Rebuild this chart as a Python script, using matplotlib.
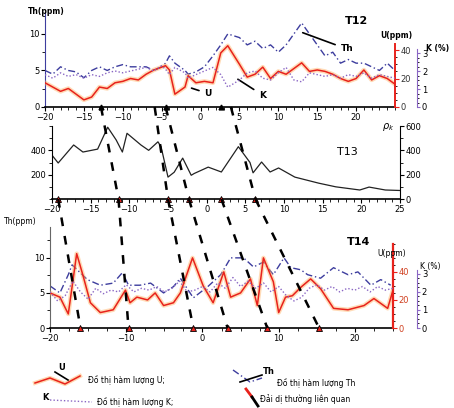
import matplotlib
matplotlib.use("Agg")
import matplotlib.pyplot as plt
from matplotlib.lines import Line2D
from matplotlib.ticker import MultipleLocator, FixedLocator
import numpy as np

W, H = 454, 408

# ---- T12 profile ----
t12_x = [-20, -19, -18, -17, -16, -15, -14, -13, -12, -11, -10, -9, -8, -7, -6, -5, -4.5, -4, -3.3,
         -2, -1.6, -0.6, 0.5, 1.6, 2.6, 3.5, 5, 6, 7, 8, 9, 10, 11, 12, 13, 14, 15, 16, 17, 18,
         19, 20, 21, 22, 23, 24, 25]
t12_u = [17, 14, 11, 13, 9, 5, 7, 14, 13, 17, 18, 20, 19, 23, 26, 28, 29, 26, 9,
         14, 22, 17, 18, 17, 38, 43, 30, 21, 23, 28, 20, 25, 23, 27, 31, 25, 26, 25, 23, 20,
         18, 20, 26, 19, 22, 20, 16]
t12_th = [5.0, 4.5, 5.5, 5.0, 4.8, 4.0, 5.0, 5.5, 5.0, 5.5, 5.8, 5.5, 5.5, 5.5, 5.0, 5.5, 6.0, 7.0, 6.0,
          5.0, 4.5, 4.8, 5.5, 7.0, 8.5, 10.0, 9.5, 8.5, 9.0, 8.0, 8.5, 7.5, 8.5, 10.0, 11.5, 10.0, 8.5,
          7.0, 7.5, 6.0, 6.5, 6.0, 6.0, 5.5, 5.0, 6.0, 5.0]
t12_k = [1.8, 1.6, 1.9, 1.7, 1.8, 1.6, 1.8, 1.7, 1.9, 2.0, 1.9, 2.0, 2.1, 2.2, 2.0, 2.3, 2.1, 1.8, 2.2,
         1.9, 1.6, 1.8, 2.0, 2.2, 1.8, 1.1, 1.5, 1.9, 2.0, 1.6, 1.5, 1.9, 2.2, 1.5, 1.4, 1.9, 1.8,
         1.7, 1.8, 1.6, 1.8, 1.7, 1.9, 1.6, 1.8, 1.7, 1.6]
t12_marks = [-12.8, -4.5, 2.6]

# ---- T13 profile (rho_k) ----
t13_x = [-20, -19.2, -17.2, -16, -14.1, -12.8, -11.7, -10.9, -10.3, -8.5, -7.5, -6.3, -5.9, -5,
         -4.2, -3.1, -2, -1.6, 0.2, 1.9, 4.1, 5.6, 6, 7.1, 8.2, 9.3, 11.4, 14.5, 16.7, 19.8, 21,
         23.1, 25]
t13_rho = [360, 296, 444, 386, 410, 590, 485, 386, 540, 444, 400, 470, 430, 180,
           220, 336, 195, 210, 262, 222, 430, 300, 215, 304, 222, 255, 180, 130, 100, 74, 98,
           74, 70]
t13_marks = [-19.2, -11.4, -5, -2.3, 1.9, 6.3]

# ---- T14 profile ----
t14_ux = [-20, -18.7, -17.6, -16.5, -15.7, -14.7, -13.4, -11.7, -10.1, -9.5, -8.6, -7.2, -6.2,
          -5.1, -3.8, -2.9, -1.3, 0.1, 1.4, 2.8, 3.7, 5, 6.3, 7.2, 8, 9.3, 10, 10.9, 11.8, 12.9,
          14.2, 15.5, 17.2, 19.1, 21.2, 22.5, 24.3, 25]
t14_u = [25, 22, 10, 53, 38, 18, 11, 13, 27, 18, 22, 20, 25,
         16, 18, 25, 50, 30, 18, 40, 22, 25, 35, 16, 50, 33, 11, 22, 23, 29,
         35, 28, 14, 13, 16, 21, 14, 27]
t14_thx = [-20, -18.7, -17.6, -17.1, -15.1, -13.4, -11.7, -10.5, -9.7, -8.2, -6.8, -5.1, -3.8,
           -2.9, -1.2, 0.7, 2.4, 3.7, 5.4, 6.7, 8, 9.3, 10.7, 11.6, 12.9, 13.8, 15.5, 17.2, 19.1,
           20.4, 22.1, 23.4, 24.7]
t14_th = [6.0, 5.0, 7.6, 9.0, 6.9, 6.1, 6.4, 7.9, 6.1, 6.1, 6.4, 5.0, 5.9,
          7.1, 4.3, 5.9, 7.6, 10.0, 10.0, 8.7, 9.4, 7.6, 10.0, 8.6, 8.3, 7.6, 7.1, 8.6, 7.6,
          8.0, 6.1, 6.9, 6.1]
t14_kx = list(range(-20, 26))
t14_k = [2.0, 1.5, 1.8, 2.6, 2.0, 1.6, 2.2, 1.9, 2.1, 2.0, 2.4, 2.0, 2.2, 2.1, 2.3, 2.0, 2.2, 2.6,
         2.0, 2.1, 2.3, 2.0, 2.5, 2.2, 2.8, 2.3, 2.6, 2.2, 2.5, 2.0, 2.3, 1.8, 1.5, 1.7, 2.2, 2.4,
         2.1, 2.3, 2.0, 2.2, 2.1, 2.3, 2.0, 2.3, 2.1, 2.2]
t14_marks = [-16, -9.7, -1.2, 3.3, 8.5, 15.3]

# anomaly bands linking the profiles
links_12_13 = [(-12.8, -11.4), (-5.9, -5), (-4.5, -2.3), (3.9, 6.3)]
links_13_14 = [(-19.2, -16), (-11.4, -9.7), (-5, -1.2), (-2.3, 3.3), (1.9, 8.5), (6.3, 15.3)]

RED = "#e8221c"
GLOW = "#ffb060"
BLUE = "#3d3d9e"
PURPLE = "#8a66c4"
FS = 6


def rect(l, t, r, b):
    return [l / W, 1 - b / H, (r - l) / W, (b - t) / H]


def style_x(ax, major, minor, labels=True):
    ax.set_xlim(-20, 25)
    ax.xaxis.set_major_locator(MultipleLocator(major))
    ax.xaxis.set_minor_locator(MultipleLocator(minor))
    ax.tick_params(axis="x", labelsize=FS, length=3, width=0.8, pad=1, labelbottom=labels)
    ax.tick_params(axis="x", which="minor", length=2, width=0.6)
    ax.spines["top"].set_visible(False)
    ax.spines["bottom"].set_linewidth(1.2)


def side_axis(ax, color, top, minor):
    for s in ("top", "left", "bottom"):
        ax.spines[s].set_visible(False)
    ax.spines["right"].set_color(color)
    ax.spines["right"].set_bounds(0, top)
    ax.yaxis.set_minor_locator(FixedLocator(np.arange(0, top + 1e-9, minor)))


def u_line(ax, x, y):
    ax.plot(x, y, color=GLOW, lw=3.2, alpha=0.45, solid_joinstyle="round")
    ax.plot(x, y, color=RED, lw=1.1)


fig = plt.figure(figsize=(W / 100, H / 100), dpi=100)

# ================= T12 =================
ax1 = fig.add_axes(rect(45, 12, 395, 107))
style_x(ax1, 5, 1)
ax1.set_xticks([-20, -15, -10, -5, 0, 5, 10, 15, 20])
ax1.set_ylim(0, 13)
ax1.set_yticks([0, 5, 10])
ax1.yaxis.set_minor_locator(MultipleLocator(2.5))
ax1.tick_params(axis="y", labelsize=FS, length=3, pad=1)
ax1.spines["right"].set_visible(False)
ax1.spines["left"].set_color(BLUE)
ax1.patch.set_alpha(0)
ax1.plot(t12_x, t12_th, color=BLUE, lw=1.0, ls=(0, (5, 2, 1, 2)))

ax1u = ax1.twinx()
ax1u.set_ylim(0, 66.7)
ax1u.set_yticks([0, 20, 40])
side_axis(ax1u, RED, 44, 5)
ax1u.spines["right"].set_linewidth(1.4)
ax1u.tick_params(axis="y", labelsize=FS, length=3, pad=1, color=RED, labelcolor="#333333")
ax1u.tick_params(axis="y", which="minor", length=1.5)
u_line(ax1u, t12_x, t12_u)

ax1k = ax1.twinx()
ax1k.set_ylim(0, 5.28)
ax1k.spines["right"].set_position(("axes", 1.063))
side_axis(ax1k, PURPLE, 3.2, 0.25)
ax1k.set_yticks([0, 1, 2, 3])
ax1k.tick_params(axis="y", labelsize=FS, length=2.5, pad=1, color=PURPLE)
ax1k.tick_params(axis="y", which="minor", length=1.5)
ax1k.plot(t12_x, t12_k, color=PURPLE, lw=1.0, ls=(0, (1, 1.5)))
ax1.plot(t12_marks, [0] * len(t12_marks), "^", color="black", ms=3.5, clip_on=False, zorder=5)

ax1.annotate("Th", xy=(12.8, 10.3), xytext=(18, 7.6), fontsize=6.5, fontweight="bold",
             arrowprops=dict(arrowstyle="-", color="black", lw=1.2))
ax1.annotate("U", xy=(-1.5, 2.7), xytext=(0.5, 1.5), fontsize=6.5, fontweight="bold",
             arrowprops=dict(arrowstyle="-", color="black", lw=1.2))
ax1.annotate("K", xy=(4.5, 4.0), xytext=(7.5, 1.3), fontsize=6.5, fontweight="bold",
             arrowprops=dict(arrowstyle="-", color="black", lw=1.2))

# ================= T13 =================
ax2 = fig.add_axes(rect(52, 126, 400, 199))
style_x(ax2, 5, 1)
ax2.set_ylim(0, 600)
ax2.set_yticks([200, 400])
ax2.yaxis.set_minor_locator(MultipleLocator(100))
ax2.tick_params(axis="y", labelsize=FS, length=3, pad=1)
ax2.spines["right"].set_visible(False)
ax2.patch.set_alpha(0)
ax2.plot(t13_x, t13_rho, color="#222222", lw=0.9)
ax2.plot(t13_marks, [0] * len(t13_marks), "^", color=RED, mec="black", mew=0.6, ms=4,
         clip_on=False, zorder=5)

ax2r = ax2.twinx()
ax2r.set_ylim(0, 600)
ax2r.set_yticks([0, 200, 400, 600])
ax2r.yaxis.set_minor_locator(MultipleLocator(100))
ax2r.tick_params(axis="y", labelsize=FS, length=3, pad=1)
for s in ("top", "left", "bottom"):
    ax2r.spines[s].set_visible(False)

# ================= T14 =================
ax3 = fig.add_axes(rect(50, 227, 393, 328))
style_x(ax3, 10, 2.5)
ax3.set_ylim(0, 14.4)
ax3.set_yticks([0, 5, 10])
ax3.yaxis.set_minor_locator(MultipleLocator(2.5))
ax3.tick_params(axis="y", labelsize=FS, length=3, pad=1)
ax3.spines["right"].set_visible(False)
ax3.spines["left"].set_color("#666666")
ax3.patch.set_alpha(0)
ax3.plot(t14_thx, t14_th, color=BLUE, lw=1.0, ls=(0, (5, 2, 1, 2)))

ax3u = ax3.twinx()
ax3u.set_ylim(0, 72)
ax3u.set_yticks([0, 20, 40])
side_axis(ax3u, RED, 60, 5)
ax3u.spines["right"].set_linewidth(1.6)
ax3u.tick_params(axis="y", labelsize=FS, length=3, pad=1, color=RED, labelcolor="#d04020")
ax3u.tick_params(axis="y", which="minor", length=1.5)
u_line(ax3u, t14_ux, t14_u)

ax3k = ax3.twinx()
ax3k.set_ylim(0, 5.6)
ax3k.spines["right"].set_position(("axes", 1.07))
side_axis(ax3k, PURPLE, 3.2, 0.25)
ax3k.set_yticks([0, 1, 2, 3])
ax3k.tick_params(axis="y", labelsize=FS, length=2.5, pad=1, color=PURPLE)
ax3k.tick_params(axis="y", which="minor", length=1.5)
ax3k.plot(t14_kx, t14_k, color=PURPLE, lw=1.0, ls=(0, (1, 1.5)))
ax3.plot(t14_marks, [0] * len(t14_marks), "^", color=RED, mec="black", mew=0.6, ms=4,
         clip_on=False, zorder=5)

# ---- dashed anomaly links across panels ----
to_fig = fig.transFigure.inverted()


def link(ax_a, xa, ax_b, xb):
    p0 = to_fig.transform(ax_a.transData.transform((xa, 0)))
    p1 = to_fig.transform(ax_b.transData.transform((xb, 0)))
    fig.add_artist(Line2D([p0[0], p1[0]], [p0[1], p1[1]], color="black", lw=1.8,
                          ls=(0, (3.5, 4)), transform=fig.transFigure))


for a, b in links_12_13:
    link(ax1, a, ax2, b)
for a, b in links_13_14:
    link(ax2, a, ax3, b)

# ---- panel labels ----
fig.text(28 / W, 1 - 12 / H, "Th(ppm)", fontsize=5.5, va="center", fontweight="bold")
fig.text(345 / W, 1 - 21 / H, "T12", fontsize=8, va="center", fontweight="bold")
fig.text(380 / W, 1 - 35 / H, "U(ppm)", fontsize=5.5, va="center", fontweight="bold")
fig.text(426 / W, 1 - 48 / H, "K (%)", fontsize=5.5, va="center", fontweight="bold")
fig.text(382 / W, 1 - 127 / H, r"$\rho_k$", fontsize=7, va="center")
fig.text(337 / W, 1 - 152 / H, "T13", fontsize=8, va="center")
fig.text(4 / W, 1 - 222 / H, "Th(ppm)", fontsize=5.5, va="center")
fig.text(347 / W, 1 - 242 / H, "T14", fontsize=8, va="center", fontweight="bold")
fig.text(377 / W, 1 - 253 / H, "U(ppm)", fontsize=5.5, va="center")
fig.text(420 / W, 1 - 267 / H, "K (%)", fontsize=5.5, va="center")


# ---- legend ----
def fl(xs, ys, **kw):
    fig.add_artist(Line2D([x / W for x in xs], [1 - y / H for y in ys],
                          transform=fig.transFigure, **kw))


fl([35, 50, 65, 80], [383, 378, 384, 376], color=GLOW, lw=3, alpha=0.5)
fl([35, 50, 65, 80], [383, 378, 384, 376], color=RED, lw=1.1)
fl([55, 68], [372, 380], color="black", lw=1.2)
fig.text(58 / W, 1 - 367 / H, "U", fontsize=6, fontweight="bold", va="center")
fig.text(88 / W, 1 - 380 / H, "Đồ thị hàm lượng U;", fontsize=5.5, va="center")

fl([233, 250, 262], [370, 382, 378], color=BLUE, lw=1.0, ls=(0, (5, 2, 1, 2)))
fl([240, 262], [382, 375], color="black", lw=1.2)
fig.text(263 / W, 1 - 372 / H, "Th", fontsize=6, fontweight="bold", va="center")
fig.text(277 / W, 1 - 383 / H, "Đồ thị hàm lượng Th", fontsize=5.5, va="center")

fl([50, 92], [400, 402], color=PURPLE, lw=1.0, ls=(0, (1, 1.5)))
fig.text(42 / W, 1 - 398 / H, "K", fontsize=6, fontweight="bold", va="center")
fig.text(97 / W, 1 - 402 / H, "Đồ thị hàm lượng K;", fontsize=5.5, va="center")

fl([246, 252], [389, 397], color=RED, lw=2)
fl([252, 258], [397, 406], color="black", lw=2)
fig.text(260 / W, 1 - 399 / H, "Đải dị thường liên quan", fontsize=5.5, va="center")

fig.savefig("out.png", dpi=100)
